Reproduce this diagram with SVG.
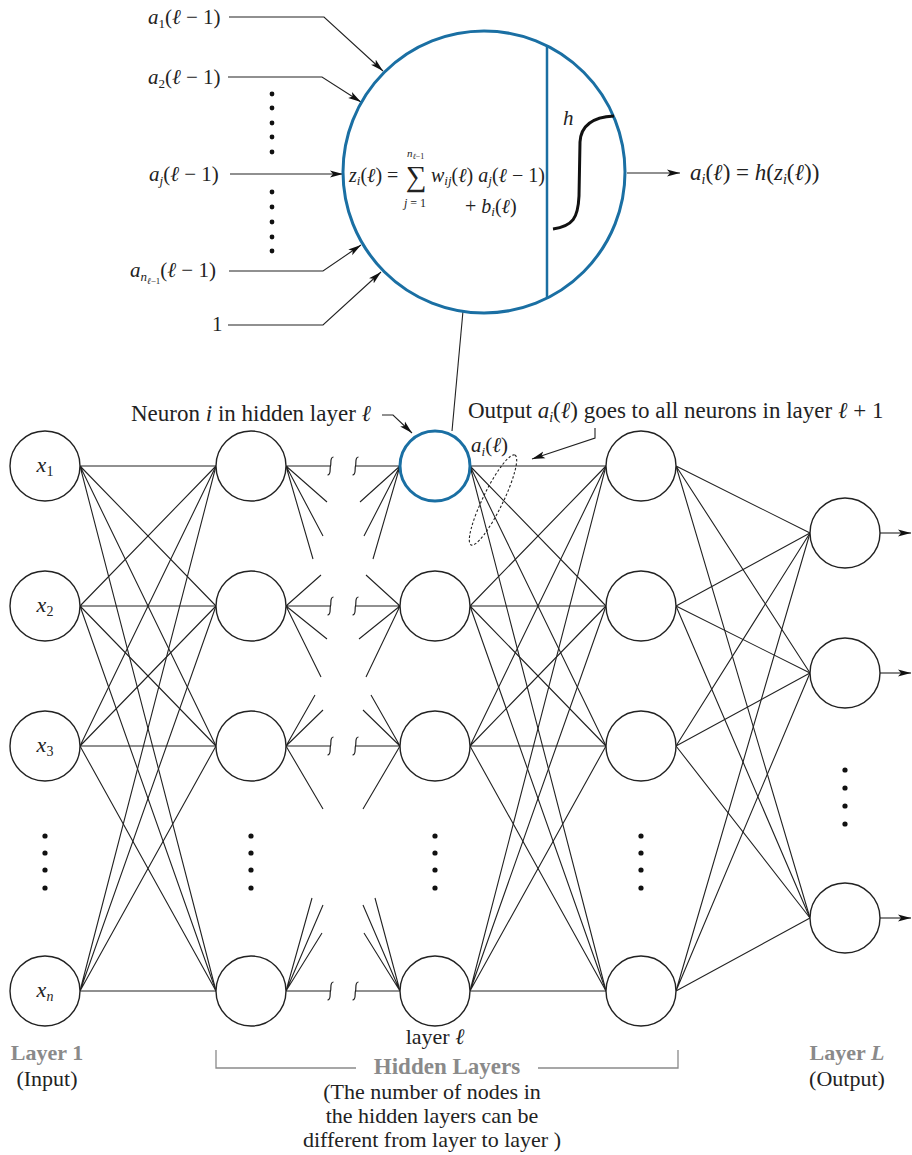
<svg xmlns="http://www.w3.org/2000/svg" width="912" height="1155" viewBox="0 0 912 1155" font-family="'Liberation Serif', 'Times New Roman', serif">
<style>
  text { font-family: 'Liberation Serif', 'Times New Roman', serif; fill: #222; }
  .it { font-style: italic; }
  .ln { stroke: #222; stroke-width: 1.1; fill: none; }
  .node { fill: #fff; stroke: #222; stroke-width: 1.4; }
  .blue { fill: none; stroke: #1a6fa3; stroke-width: 3; }
  .dot { fill: #111; }
  .gray { fill: #8a8a8a; font-weight: bold; }
  .sq { stroke: #222; stroke-width: 1.2; fill: none; }
</style>
<defs>
  <marker id="arr" markerUnits="userSpaceOnUse" markerWidth="14" markerHeight="8" refX="13" refY="4" orient="auto">
    <path d="M0,0.5 L13,4 L0,7.5 L3,4 Z" fill="#111"/>
  </marker>
</defs>

<!-- Connectors -->
<g id="connectors" class="ln">
  <!-- input to hidden 1 -->
  <path d="M80 466 L216 466 M80 466 L216 606 M80 466 L216 746 M80 466 L216 991"/>
  <path d="M80 606 L216 466 M80 606 L216 606 M80 606 L216 746 M80 606 L216 991"/>
  <path d="M80 746 L216 466 M80 746 L216 606 M80 746 L216 746 M80 746 L216 991"/>
  <path d="M80 991 L216 466 M80 991 L216 606 M80 991 L216 746 M80 991 L216 991"/>
  <!-- hidden 1 stubs -->
  <path d="M286 466 L330 466 M286 466 L327 502 M286 466 L323 536 M286 466 L313 559"/>
  <path d="M286 606 L321 575 M286 606 L330 606 M286 606 L327 639 M286 606 L321 677"/>
  <path d="M286 746 L315 695 M286 746 L323 710 M286 746 L330 746 M286 746 L323 809"/>
  <path d="M286 991 L312 898 M286 991 L323 905 M286 991 L322 933 M286 991 L330 991"/>
  <!-- layer l stubs -->
  <path d="M400 466 L356 466 M400 466 L360 502 M400 466 L364 536 M400 466 L373 559"/>
  <path d="M400 606 L366 575 M400 606 L356 606 M400 606 L359 639 M400 606 L366 677"/>
  <path d="M400 746 L371 695 M400 746 L363 710 M400 746 L356 746 M400 746 L363 809"/>
  <path d="M400 991 L375 898 M400 991 L363 905 M400 991 L364 933 M400 991 L356 991"/>
  <!-- squiggles -->
  <path class="sq" d="M333.5 457 C329.5 457 331.5 464 330.5 466 C329.5 468 331.5 475 327.5 475"/>
  <path class="sq" d="M358.5 457 C354.5 457 356.5 464 355.5 466 C354.5 468 356.5 475 352.5 475"/>
  <path class="sq" d="M333.5 597 C329.5 597 331.5 604 330.5 606 C329.5 608 331.5 615 327.5 615"/>
  <path class="sq" d="M358.5 597 C354.5 597 356.5 604 355.5 606 C354.5 608 356.5 615 352.5 615"/>
  <path class="sq" d="M333.5 737 C329.5 737 331.5 744 330.5 746 C329.5 748 331.5 755 327.5 755"/>
  <path class="sq" d="M358.5 737 C354.5 737 356.5 744 355.5 746 C354.5 748 356.5 755 352.5 755"/>
  <path class="sq" d="M333.5 982 C329.5 982 331.5 989 330.5 991 C329.5 993 331.5 1000 327.5 1000"/>
  <path class="sq" d="M358.5 982 C354.5 982 356.5 989 355.5 991 C354.5 993 356.5 1000 352.5 1000"/>
  <!-- layer l to next -->
  <path d="M470 466 L606 466 M470 466 L606 606 M470 466 L606 746 M470 466 L606 991"/>
  <path d="M470 606 L606 466 M470 606 L606 606 M470 606 L606 746 M470 606 L606 991"/>
  <path d="M470 746 L606 466 M470 746 L606 606 M470 746 L606 746 M470 746 L606 991"/>
  <path d="M470 991 L606 466 M470 991 L606 606 M470 991 L606 746 M470 991 L606 991"/>
  <!-- next to output -->
  <path d="M676 466 L810 533 M676 466 L810 673 M676 466 L810 918"/>
  <path d="M676 606 L810 533 M676 606 L810 673 M676 606 L810 918"/>
  <path d="M676 746 L810 533 M676 746 L810 673 M676 746 L810 918"/>
  <path d="M676 991 L810 533 M676 991 L810 673 M676 991 L810 918"/>
  <!-- outputs -->
  <path d="M880 533 L911 533" marker-end="url(#arr)"/>
  <path d="M880 673 L911 673" marker-end="url(#arr)"/>
  <path d="M880 918 L911 918" marker-end="url(#arr)"/>
  <!-- inputs to big neuron -->
  <path d="M229 17 L324 17 L383 71" marker-end="url(#arr)"/>
  <path d="M228 77 L322 77 L361 102" marker-end="url(#arr)"/>
  <path d="M230 174 L343 174" marker-end="url(#arr)"/>
  <path d="M229 271 L323 271 L361 245" marker-end="url(#arr)"/>
  <path d="M228 325 L323 325 L381 272" marker-end="url(#arr)"/>
  <path d="M627 173 L680 173" marker-end="url(#arr)"/>
  <!-- zoom line -->
  <path d="M463 311 L452 431"/>
  <!-- annotations -->
  <path d="M382 415 L393 415 L412 433" marker-end="url(#arr)"/>
  <path d="M595 428 L595 438 L532 459" marker-end="url(#arr)"/>
  <ellipse cx="493" cy="500" rx="50" ry="10" transform="rotate(-64 493 500)" stroke-dasharray="2.5 2"/>
</g>

<!-- big neuron detail -->
<g id="neuron-detail" font-family="'Liberation Serif', 'Times New Roman', serif">
  <circle cx="484" cy="172" r="141" class="blue" fill="#fff"/>
  <line x1="547" y1="45" x2="547" y2="299" stroke="#1a6fa3" stroke-width="2.5"/>
  <path d="M553 229 C573 226 578 218 579 196 L580 142 C581 124 594 117 614 116" fill="none" stroke="#111" stroke-width="3"/>
  <text x="563" y="125" class="it" font-size="21">h</text>
  <text x="349" y="182" font-size="20"><tspan class="it">z</tspan><tspan class="it" font-size="13" dy="3">i</tspan><tspan dy="-3">(</tspan><tspan class="it">ℓ</tspan>) =</text>
  <text x="406" y="186" font-size="29">∑</text>
  <text x="407" y="157" font-size="11"><tspan class="it">n</tspan><tspan class="it" font-size="8" dy="2">ℓ</tspan><tspan font-size="8">−1</tspan></text>
  <text x="404" y="207" font-size="12"><tspan class="it">j</tspan> = 1</text>
  <text x="431" y="182" font-size="20"><tspan class="it">w</tspan><tspan class="it" font-size="13" dy="3">ij</tspan><tspan dy="-3">(</tspan><tspan class="it">ℓ</tspan>) <tspan class="it">a</tspan><tspan class="it" font-size="13" dy="3">j</tspan><tspan dy="-3">(</tspan><tspan class="it">ℓ</tspan> − 1)</text>
  <text x="465" y="213" font-size="20">+ <tspan class="it">b</tspan><tspan class="it" font-size="13" dy="3">i</tspan><tspan dy="-3">(</tspan><tspan class="it">ℓ</tspan>)</text>
  <text x="690" y="180" font-size="23"><tspan class="it">a</tspan><tspan class="it" font-size="14" dy="4">i</tspan><tspan dy="-4">(</tspan><tspan class="it">ℓ</tspan>) = <tspan class="it">h</tspan>(<tspan class="it">z</tspan><tspan class="it" font-size="14" dy="4">i</tspan><tspan dy="-4">(</tspan><tspan class="it">ℓ</tspan>))</text>
</g>

<!-- input labels to big neuron -->
<g id="big-inputs" font-size="21" font-family="'Liberation Serif', 'Times New Roman', serif">
  <text x="148" y="24"><tspan class="it">a</tspan><tspan font-size="13" dy="4">1</tspan><tspan dy="-4">(</tspan><tspan class="it">ℓ</tspan> − 1)</text>
  <text x="148" y="84"><tspan class="it">a</tspan><tspan font-size="13" dy="4">2</tspan><tspan dy="-4">(</tspan><tspan class="it">ℓ</tspan> − 1)</text>
  <text x="149" y="181"><tspan class="it">a</tspan><tspan class="it" font-size="13" dy="4">j</tspan><tspan dy="-4">(</tspan><tspan class="it">ℓ</tspan> − 1)</text>
  <text x="130" y="277"><tspan class="it">a</tspan><tspan class="it" font-size="13" dy="4">n</tspan><tspan class="it" font-size="9" dy="3">ℓ</tspan><tspan font-size="9">−1</tspan><tspan dy="-7">(</tspan><tspan class="it">ℓ</tspan> − 1)</text>
  <text x="212" y="331">1</text>
  <circle class="dot" cx="272" cy="94" r="2.4"/>
  <circle class="dot" cx="272" cy="108" r="2.4"/>
  <circle class="dot" cx="272" cy="123" r="2.4"/>
  <circle class="dot" cx="272" cy="137" r="2.4"/>
  <circle class="dot" cx="272" cy="152" r="2.4"/>
  <circle class="dot" cx="272" cy="192" r="2.4"/>
  <circle class="dot" cx="272" cy="207" r="2.4"/>
  <circle class="dot" cx="272" cy="222" r="2.4"/>
  <circle class="dot" cx="272" cy="237" r="2.4"/>
  <circle class="dot" cx="272" cy="251" r="2.4"/>
</g>

<!-- annotations text -->
<g id="annotations" font-size="23" font-family="'Liberation Serif', 'Times New Roman', serif">
  <text x="131" y="421">Neuron <tspan class="it">i</tspan> in hidden layer <tspan class="it">ℓ</tspan></text>
  <text x="468" y="418">Output <tspan class="it">a</tspan><tspan class="it" font-size="14" dy="4">i</tspan><tspan dy="-4">(</tspan><tspan class="it">ℓ</tspan>) goes to all neurons in layer <tspan class="it">ℓ</tspan> + 1</text>
  <text x="471" y="452" font-size="21"><tspan class="it">a</tspan><tspan class="it" font-size="13" dy="4">i</tspan><tspan dy="-4">(</tspan><tspan class="it">ℓ</tspan>)</text>
</g>

<!-- input layer -->
<g id="input-layer" font-size="22" text-anchor="middle" font-family="'Liberation Serif', 'Times New Roman', serif">
  <g id="x1"><circle class="node" cx="45" cy="466" r="35"/><text x="45" y="472"><tspan class="it">x</tspan><tspan font-size="14" dy="4">1</tspan></text></g>
  <g id="x2"><circle class="node" cx="45" cy="606" r="35"/><text x="45" y="612"><tspan class="it">x</tspan><tspan font-size="14" dy="4">2</tspan></text></g>
  <g id="x3"><circle class="node" cx="45" cy="746" r="35"/><text x="45" y="752"><tspan class="it">x</tspan><tspan font-size="14" dy="4">3</tspan></text></g>
  <g id="xn"><circle class="node" cx="45" cy="991" r="35"/><text x="45" y="997"><tspan class="it">x</tspan><tspan class="it" font-size="14" dy="4">n</tspan></text></g>
  <circle class="dot" cx="45" cy="836" r="2.6"/><circle class="dot" cx="45" cy="853" r="2.6"/><circle class="dot" cx="45" cy="870" r="2.6"/><circle class="dot" cx="45" cy="888" r="2.6"/>
</g>

<!-- hidden layer 1 -->
<g id="hidden-1">
  <circle class="node" cx="251" cy="466" r="35"/>
  <circle class="node" cx="251" cy="606" r="35"/>
  <circle class="node" cx="251" cy="746" r="35"/>
  <circle class="node" cx="251" cy="991" r="35"/>
  <circle class="dot" cx="251" cy="836" r="2.6"/><circle class="dot" cx="251" cy="853" r="2.6"/><circle class="dot" cx="251" cy="870" r="2.6"/><circle class="dot" cx="251" cy="888" r="2.6"/>
</g>

<!-- hidden layer l -->
<g id="hidden-l">
  <circle cx="435" cy="466" r="35" fill="#fff" stroke="#1a6fa3" stroke-width="3"/>
  <circle class="node" cx="435" cy="606" r="35"/>
  <circle class="node" cx="435" cy="746" r="35"/>
  <circle class="node" cx="435" cy="991" r="35"/>
  <circle class="dot" cx="435" cy="836" r="2.6"/><circle class="dot" cx="435" cy="853" r="2.6"/><circle class="dot" cx="435" cy="870" r="2.6"/><circle class="dot" cx="435" cy="888" r="2.6"/>
</g>

<!-- hidden layer l+1 -->
<g id="hidden-next">
  <circle class="node" cx="641" cy="466" r="35"/>
  <circle class="node" cx="641" cy="606" r="35"/>
  <circle class="node" cx="641" cy="746" r="35"/>
  <circle class="node" cx="641" cy="991" r="35"/>
  <circle class="dot" cx="641" cy="836" r="2.6"/><circle class="dot" cx="641" cy="853" r="2.6"/><circle class="dot" cx="641" cy="870" r="2.6"/><circle class="dot" cx="641" cy="888" r="2.6"/>
</g>

<!-- output layer -->
<g id="output-layer">
  <circle class="node" cx="845" cy="533" r="35"/>
  <circle class="node" cx="845" cy="673" r="35"/>
  <circle class="node" cx="845" cy="918" r="35"/>
  <circle class="dot" cx="845" cy="770" r="2.6"/><circle class="dot" cx="845" cy="788" r="2.6"/><circle class="dot" cx="845" cy="806" r="2.6"/><circle class="dot" cx="845" cy="824" r="2.6"/>
</g>

<!-- bottom labels -->
<g id="labels" font-size="22" text-anchor="middle" font-family="'Liberation Serif', 'Times New Roman', serif">
  <text x="435" y="1044">layer <tspan class="it">ℓ</tspan></text>
  <text x="47" y="1060" class="gray">Layer 1</text>
  <text x="47" y="1086">(Input)</text>
  <text x="847" y="1060" class="gray">Layer <tspan class="it">L</tspan></text>
  <text x="847" y="1086">(Output)</text>
  <path d="M216 1050 L216 1068 L356 1068 M538 1068 L678 1068 L678 1050" fill="none" stroke="#8a8a8a" stroke-width="1.3"/>
  <text x="447" y="1074" class="gray" font-size="23">Hidden Layers</text>
  <text x="432" y="1099">(The number of nodes in</text>
  <text x="432" y="1123">the hidden layers can be</text>
  <text x="432" y="1147">different from layer to layer )</text>
</g>
</svg>
